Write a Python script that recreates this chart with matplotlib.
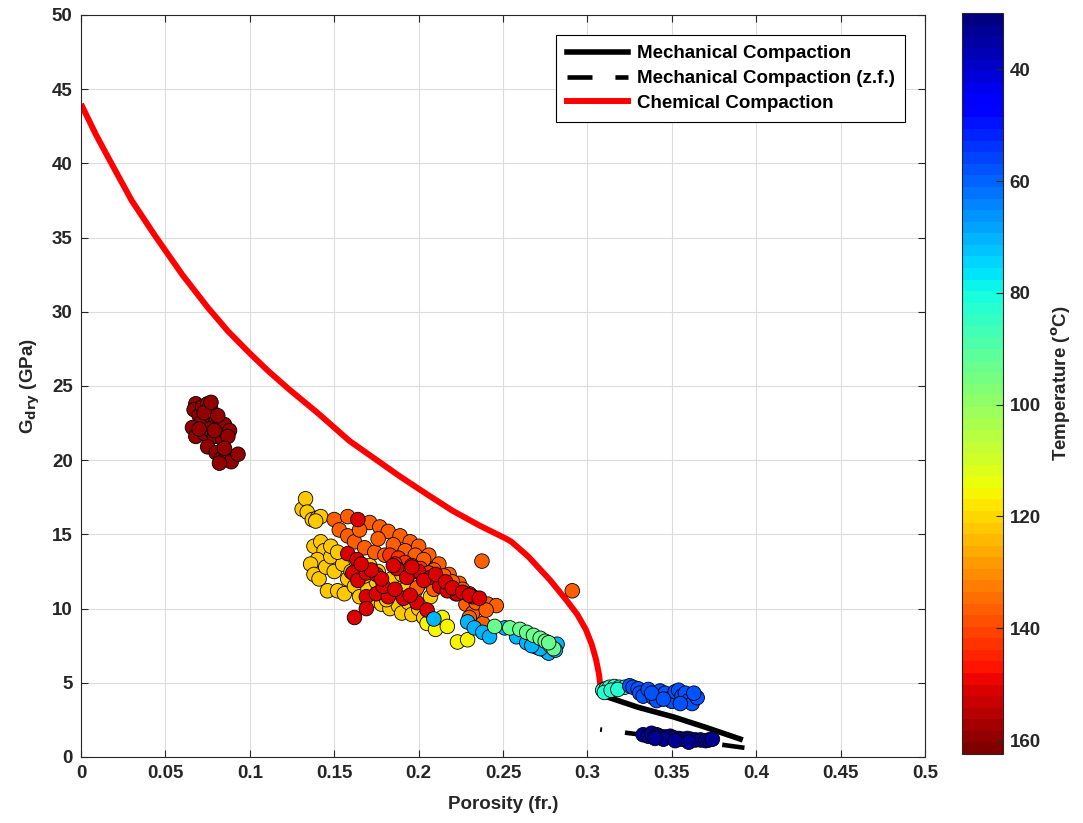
import numpy as np
import matplotlib
matplotlib.use("Agg")
import matplotlib.pyplot as plt
from matplotlib.lines import Line2D
from matplotlib.colors import Normalize

plt.rcParams['font.family'] = ['Liberation Sans', 'DejaVu Sans']
plt.rcParams['font.weight'] = 'bold'
plt.rcParams['lines.scale_dashes'] = False

# ---------------- data ----------------
# chemical compaction curve
phi_chem = [0.0, 0.009, 0.018, 0.03, 0.044, 0.06, 0.075, 0.087, 0.1, 0.111, 0.123, 0.14,
            0.159, 0.174, 0.189, 0.205, 0.22, 0.236, 0.252, 0.255, 0.265, 0.278, 0.288,
            0.294, 0.299, 0.3025, 0.305, 0.3068, 0.308]
g_chem = [44.0, 41.9, 40.0, 37.5, 35.1, 32.5, 30.3, 28.7, 27.2, 26.0, 24.8, 23.2,
          21.3, 20.1, 18.9, 17.7, 16.6, 15.6, 14.7, 14.5, 13.5, 11.9, 10.5,
          9.6, 8.6, 7.6, 6.6, 5.6, 4.5]

# mechanical compaction
phi_mech = [0.309, 0.33, 0.351, 0.37, 0.392]
g_mech = [4.15, 3.35, 2.7, 2.0, 1.15]

# mechanical compaction (z.f.)
phi_zf = [0.3075, 0.33, 0.355, 0.38, 0.393]
g_zf = [1.85, 1.53, 1.17, 0.82, 0.62]

# scatter groups: porosity, G_dry, temperature
phi_a = [0.068, 0.067, 0.070, 0.072, 0.075, 0.077, 0.074, 0.071, 0.078, 0.080, 0.082, 0.085,
         0.088, 0.066, 0.068, 0.073, 0.076, 0.079, 0.084, 0.087, 0.075, 0.080, 0.083, 0.086,
         0.089, 0.093, 0.082, 0.085, 0.079, 0.070, 0.073, 0.077, 0.081]
g_a = [23.8, 23.4, 23.0, 23.6, 23.8, 23.4, 22.9, 22.5, 22.8, 22.6, 22.3, 22.4,
       22.0, 22.2, 21.6, 21.8, 22.1, 21.6, 21.4, 21.6, 20.9, 20.5, 20.1, 20.3,
       19.9, 20.4, 19.8, 20.8, 22.0, 22.1, 23.2, 23.9, 23.0]
temp_a = 160

phi_b = [0.131, 0.133, 0.134, 0.137, 0.140, 0.142, 0.139,
         0.138, 0.142, 0.144, 0.140, 0.136, 0.138, 0.141, 0.145, 0.148, 0.150, 0.148,
         0.146, 0.152, 0.156, 0.158, 0.162, 0.165, 0.170, 0.172, 0.175, 0.178, 0.180,
         0.183, 0.186, 0.188, 0.190, 0.194, 0.196, 0.200, 0.203, 0.198, 0.155, 0.160,
         0.168, 0.176, 0.184, 0.190, 0.193, 0.200, 0.207, 0.152, 0.163, 0.181, 0.171]
g_b = [16.7, 17.4, 16.5, 16.0, 16.1, 16.2, 15.9,
       14.2, 14.5, 13.9, 13.3, 13.0, 12.3, 12.0, 12.8, 13.5, 12.5, 14.2,
       11.2, 11.2, 11.0, 12.0, 11.5, 10.8, 11.3, 10.5, 11.8, 10.3, 11.0,
       10.0, 11.5, 10.2, 9.7, 10.4, 9.6, 10.0, 9.4, 11.2, 13.0, 12.5,
       12.2, 12.5, 12.0, 12.3, 11.4, 11.6, 10.8, 13.8, 13.2, 10.6, 12.9]
temp_b = 122

phi_b2 = [0.205, 0.210, 0.214, 0.217, 0.223, 0.229]
g_b2 = [9.0, 8.6, 9.4, 8.8, 7.75, 7.9]
temp_b2 = 116

phi_c = [0.150, 0.158, 0.171, 0.177, 0.182, 0.189, 0.195, 0.200, 0.206, 0.212, 0.218, 0.224,
         0.230, 0.236, 0.241, 0.246, 0.153, 0.158, 0.162, 0.168, 0.174, 0.180, 0.186, 0.193,
         0.199, 0.205, 0.211, 0.216, 0.222, 0.228, 0.232, 0.238, 0.230, 0.165, 0.176, 0.185,
         0.192, 0.198, 0.203, 0.209, 0.215, 0.220, 0.226, 0.234, 0.240, 0.199, 0.209, 0.2375,
         0.291]
g_c = [16.0, 16.2, 15.8, 15.5, 15.2, 14.9, 14.5, 14.2, 13.6, 13.0, 12.3, 11.7,
       11.0, 10.6, 10.3, 10.2, 15.3, 14.9, 14.5, 14.1, 13.8, 13.6, 13.5, 13.3,
       13.0, 12.6, 12.0, 11.5, 11.0, 10.3, 9.7, 9.0, 9.4, 15.3, 14.7, 14.3,
       13.9, 13.6, 13.3, 12.6, 12.2, 11.8, 11.3, 10.4, 9.9, 11.4, 11.3, 13.2,
       11.2]
temp_c = 136

phi_c2 = [0.183, 0.188, 0.192, 0.196, 0.201, 0.206, 0.186, 0.194]
g_c2 = [13.6, 13.4, 13.1, 12.9, 12.7, 12.4, 13.0, 12.6]
temp_c2 = 143

phi_d = [0.164, 0.158, 0.1635, 0.161, 0.164, 0.169, 0.175, 0.169, 0.169, 0.162, 0.175, 0.182,
         0.187, 0.191, 0.199, 0.200, 0.207, 0.2125, 0.217, 0.223, 0.232, 0.205, 0.179, 0.178,
         0.185, 0.193, 0.196, 0.203, 0.210, 0.216, 0.220, 0.226, 0.230, 0.236, 0.195, 0.186,
         0.172, 0.166]
g_d = [16.0, 13.7, 13.3, 12.4, 11.9, 12.4, 12.3, 10.8, 10.0, 9.4, 11.0, 10.8,
       12.7, 10.7, 10.4, 12.5, 12.1, 11.5, 11.2, 11.0, 10.8, 9.9, 11.5, 12.0,
       12.9, 12.1, 12.8, 11.9, 12.3, 11.8, 11.4, 11.1, 10.9, 10.7, 10.9, 11.3,
       12.6, 13.0]
temp_d = 152

phi_e = [0.209, 0.229, 0.233, 0.238, 0.242, 0.251, 0.258, 0.264, 0.270, 0.275, 0.279, 0.282,
         0.277, 0.281, 0.272, 0.267]
g_e = [9.3, 9.1, 8.7, 8.4, 8.1, 8.7, 8.1, 7.7, 7.4, 7.2, 7.4, 7.6,
       7.0, 7.2, 7.3, 7.5]
temp_e = 71

phi_f = [0.245, 0.254, 0.260, 0.264, 0.268, 0.272, 0.275, 0.278, 0.280, 0.277]
g_f = [8.8, 8.7, 8.6, 8.4, 8.2, 8.0, 7.8, 7.5, 7.3, 7.7]
temp_f = 93

phi_g = [0.309, 0.311, 0.313, 0.316, 0.319, 0.322, 0.310, 0.314, 0.318]
g_g = [4.5, 4.6, 4.7, 4.75, 4.7, 4.7, 4.35, 4.5, 4.55]
temp_g = 83

phi_h = [0.325, 0.327, 0.330, 0.331, 0.333, 0.336, 0.339, 0.341, 0.343, 0.346, 0.348, 0.350,
         0.352, 0.354, 0.356, 0.358, 0.360, 0.362, 0.365, 0.363, 0.355, 0.338, 0.345]
g_h = [4.8, 4.7, 4.6, 4.3, 4.1, 4.55, 4.0, 3.8, 4.45, 4.3, 3.9, 3.75,
       4.4, 4.5, 4.1, 4.3, 3.8, 3.6, 4.0, 4.3, 3.6, 4.3, 3.9]
temp_h = 58

phi_k = [0.333, 0.336, 0.338, 0.341, 0.343, 0.346, 0.349, 0.351, 0.354, 0.356, 0.359, 0.361,
         0.364, 0.367, 0.370, 0.372, 0.374, 0.345, 0.352, 0.360, 0.340]
g_k = [1.5, 1.4, 1.6, 1.5, 1.4, 1.35, 1.4, 1.3, 1.25, 1.2, 1.25, 1.2,
       1.15, 1.15, 1.1, 1.15, 1.2, 1.2, 1.1, 1.0, 1.25]
temp_k = 33

t_min, t_max = 30, 162.5
x_ticks = [0, 0.05, 0.1, 0.15, 0.2, 0.25, 0.3, 0.35, 0.4, 0.45, 0.5]
x_ticklabels = ['0', '0.05', '0.1', '0.15', '0.2', '0.25', '0.3', '0.35', '0.4', '0.45', '0.5']
y_ticks = list(range(0, 51, 5))
cb_ticks = [40, 60, 80, 100, 120, 140, 160]

# ---------------- figure ----------------
fs = 13.5
fig = plt.figure(figsize=(10.83, 8.23), dpi=100)
ax = fig.add_axes([0.0748, 0.0802, 0.7794, 0.9016])
cax = fig.add_axes([0.888, 0.0838, 0.038, 0.9])

tc = '#262626'
ax.plot(phi_mech, g_mech, color='k', lw=4.0, solid_capstyle='butt', zorder=2)
ax.plot(phi_zf, g_zf, color='k', lw=3.3, dash_capstyle='butt',
        linestyle=(0, (1.4, 16.6, 63.4, 7.2, 20.0, 50)), zorder=2)
ax.plot(phi_chem, g_chem, color='red', lw=4.3, solid_capstyle='butt',
        solid_joinstyle='round', zorder=2)

cmap = plt.get_cmap('jet', 64)
norm = Normalize(vmin=t_min, vmax=t_max)
groups = [(phi_a, g_a, temp_a), (phi_b, g_b, temp_b), (phi_b2, g_b2, temp_b2),
          (phi_c, g_c, temp_c), (phi_c2, g_c2, temp_c2), (phi_d, g_d, temp_d),
          (phi_e, g_e, temp_e), (phi_f, g_f, temp_f), (phi_g, g_g, temp_g),
          (phi_h, g_h, temp_h), (phi_k, g_k, temp_k)]
sc = None
for p, g, t in groups:
    sc = ax.scatter(p, g, c=[t] * len(p), cmap=cmap, norm=norm, s=110,
                    edgecolors='k', linewidths=0.6, zorder=3)

ax.set_xlim(0, 0.5)
ax.set_ylim(0, 50)
ax.set_xticks(x_ticks)
ax.set_xticklabels(x_ticklabels)
ax.set_yticks(y_ticks)
ax.grid(True, color='#dcdcdc', lw=0.8)
ax.set_axisbelow(True)
ax.tick_params(direction='in', length=5, width=0.8, colors=tc, labelsize=fs, pad=6,
               top=True, right=True, labeltop=False, labelright=False)
for lab in ax.get_xticklabels() + ax.get_yticklabels():
    lab.set_fontweight('bold')
for s in ax.spines.values():
    s.set_color(tc)
    s.set_linewidth(0.8)
ax.set_xlabel('Porosity (fr.)', fontsize=fs, fontweight='bold', color=tc, labelpad=10)
ax.set_ylabel('G$_{\\mathbf{dry}}$ (GPa)', fontsize=fs, fontweight='bold', color=tc, labelpad=7)

handles = [Line2D([], [], color='k', lw=4.0),
           Line2D([], [], color='k', lw=3.3, linestyle=(0, (18, 16.5)), dash_capstyle='butt'),
           Line2D([], [], color='red', lw=4.3)]
labels = ['Mechanical Compaction', 'Mechanical Compaction (z.f.)', 'Chemical Compaction']
leg = ax.legend(handles, labels, loc='upper right', bbox_to_anchor=(0.976, 0.973),
                borderaxespad=0, fancybox=False, framealpha=1, edgecolor='k',
                prop={'weight': 'bold', 'size': fs}, handlelength=3.26,
                labelspacing=0.4, borderpad=0.55, handletextpad=0.48)
leg.get_frame().set_linewidth(0.8)

cb = fig.colorbar(sc, cax=cax)
cb.set_ticks(cb_ticks)
cax.invert_yaxis()
cb.ax.tick_params(direction='in', length=5, width=0.8, colors=tc, labelsize=fs, pad=5)
for lab in cb.ax.get_yticklabels():
    lab.set_fontweight('bold')
cb.outline.set_edgecolor(tc)
cb.outline.set_linewidth(0.8)
cb.set_label('Temperature ($^{\\mathbf{o}}$C)', fontsize=fs, fontweight='bold', color=tc, labelpad=6)

fig.savefig('out.png', dpi=100)
